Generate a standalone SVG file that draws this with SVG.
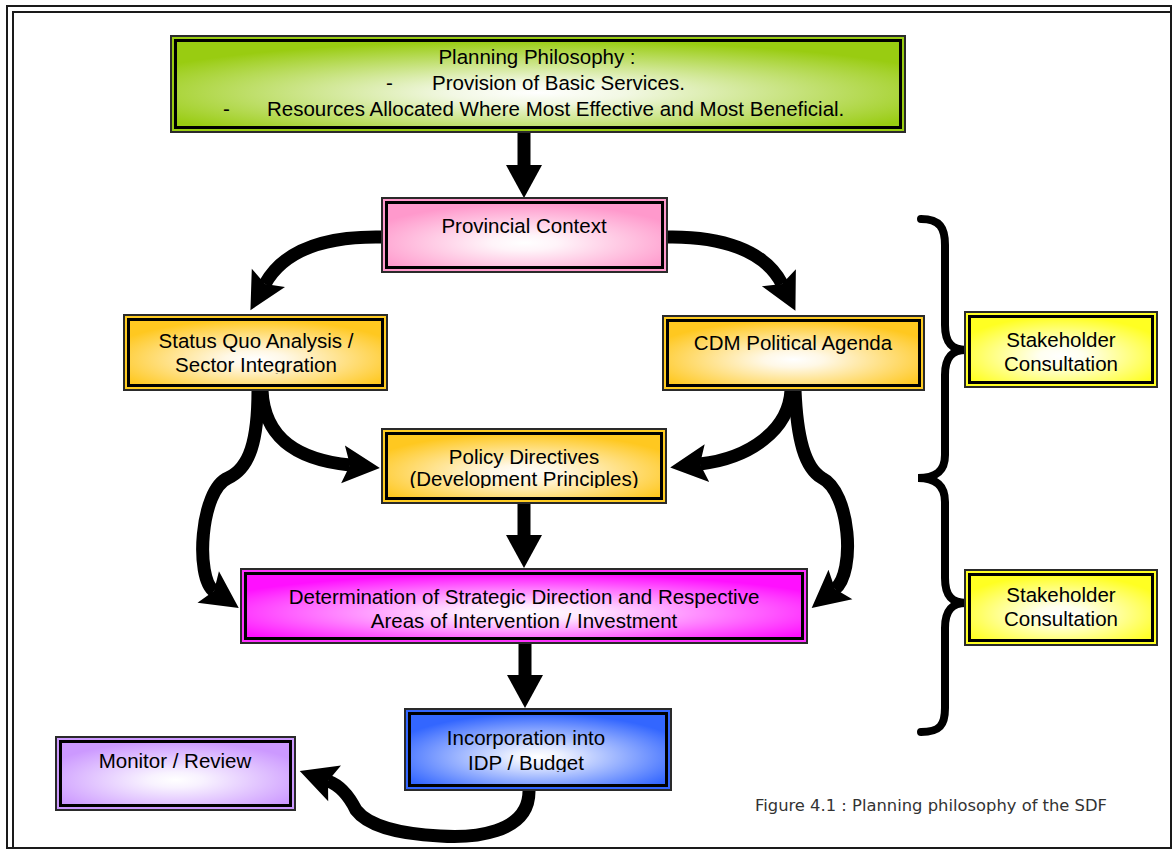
<svg xmlns="http://www.w3.org/2000/svg" width="1175" height="850" viewBox="0 0 1175 850">
<style>
.frame{fill:none;stroke:#1a1a1a;stroke-width:2}
.outer{stroke:#2a2a2a;stroke-width:2}
.inner{stroke:#000;stroke-width:3}
.t{font-family:"Liberation Sans",Arial,sans-serif;font-size:20.5px;fill:#000}
.c{text-anchor:middle}
.conn{fill:none;stroke:#000;stroke-width:13}
.brace{fill:none;stroke:#000;stroke-width:8;stroke-linecap:round;stroke-linejoin:miter}
.cap{font-family:"DejaVu Sans","Liberation Sans",sans-serif;font-size:15px;fill:#333}
</style>
<defs>
<radialGradient id="gGreen" cx="0.5" cy="0.6" r="0.6"><stop offset="0" stop-color="#fff"/><stop offset="0.2" stop-color="#f2f8e4"/><stop offset="1" stop-color="#99cc11"/></radialGradient>
<radialGradient id="gPink" cx="0.5" cy="0.62" r="0.6"><stop offset="0" stop-color="#fff"/><stop offset="0.2" stop-color="#fff4f9"/><stop offset="1" stop-color="#ff99cc"/></radialGradient>
<radialGradient id="gGold" cx="0.5" cy="0.6" r="0.6"><stop offset="0" stop-color="#fff"/><stop offset="0.2" stop-color="#fff8e6"/><stop offset="1" stop-color="#ffc820"/></radialGradient>
<radialGradient id="gMag" cx="0.5" cy="0.6" r="0.6"><stop offset="0" stop-color="#fff"/><stop offset="0.2" stop-color="#ffe6ff"/><stop offset="1" stop-color="#ff10ff"/></radialGradient>
<radialGradient id="gBlue" cx="0.5" cy="0.6" r="0.6"><stop offset="0" stop-color="#fff"/><stop offset="0.15" stop-color="#eef2ff"/><stop offset="1" stop-color="#3366ff"/></radialGradient>
<radialGradient id="gPurple" cx="0.5" cy="0.6" r="0.6"><stop offset="0" stop-color="#fff"/><stop offset="0.2" stop-color="#f8f2ff"/><stop offset="1" stop-color="#cc99ff"/></radialGradient>
<radialGradient id="gYellow" cx="0.5" cy="0.6" r="0.6"><stop offset="0" stop-color="#fff"/><stop offset="0.2" stop-color="#fffff0"/><stop offset="1" stop-color="#ffff22"/></radialGradient>
<marker id="head" markerUnits="userSpaceOnUse" viewBox="-8 -20 40 40" refX="0" refY="0" markerWidth="40" markerHeight="40" orient="auto" overflow="visible">
<path d="M30,0 L-7,-19 L0,0 L-7,19 Z" fill="#000"/>
</marker>
<marker id="flat" markerUnits="userSpaceOnUse" viewBox="0 -20 40 40" refX="0" refY="0" markerWidth="40" markerHeight="40" orient="auto" overflow="visible">
<path d="M33,0 L0,-18 L0,18 Z" fill="#000"/>
</marker>
<clipPath id="clipSQ"><rect x="120" y="300" width="280" height="73.5"/></clipPath>
<clipPath id="clipPD"><rect x="380" y="420" width="290" height="68"/></clipPath>
<clipPath id="clipIN"><rect x="400" y="700" width="280" height="72"/></clipPath>
</defs>

<g id="frame">
<rect class="frame" x="7" y="6" width="1164" height="842"/>
<path class="frame" d="M13,849 V12 H1171"/>
</g>

<g id="connectors">
<path class="conn" d="M524,133 L524,165" marker-end="url(#flat)"/>
<path class="conn" d="M382,237 C330,236 285,248 265,284" marker-end="url(#head)"/>
<path class="conn" d="M667,237 C720,236 765,250 782,284" marker-end="url(#head)"/>
<path class="conn" d="M262,390 C264,440 300,460 350,465" marker-end="url(#head)"/>
<path class="conn" d="M258,390 C258,440 250,468 228,478 C200,490 195,578 214,591" marker-end="url(#head)"/>
<path class="conn" d="M791,390 C789,430 750,458 700,464" marker-end="url(#head)"/>
<path class="conn" d="M795,390 C797,440 805,468 822,478 C850,492 856,572 835,589" marker-end="url(#head)"/>
<path class="conn" d="M524,504 L524,535" marker-end="url(#flat)"/>
<path class="conn" d="M525,643 L525,675" marker-end="url(#flat)"/>
<path class="conn" d="M529,790 C530,835 470,838 440,836 C400,834 368,826 356,810 C350,798 342,786 328,781" marker-end="url(#head)"/>
<path class="brace" d="M921,219 C940,219 945,228 945,245 L945,325 C945,343 952,350 966,350 C952,350 945,357 945,375 L945,455 C945,472 935,478 918,478 C935,478 945,485 945,502 L945,578 C945,596 952,603 966,603 C952,603 945,610 945,628 L945,708 C945,725 940,732 921,732"/>
</g>

<g id="philosophy">
<rect class="outer" x="171" y="36" width="734" height="96" fill="#99cc11"/>
<rect class="inner" x="175.5" y="40.5" width="725" height="87" fill="url(#gGreen)"/>
<text class="t c" x="537" y="64">Planning Philosophy :</text>
<text class="t" x="386" y="90">-</text>
<text class="t" x="432" y="90">Provision of Basic Services.</text>
<text class="t" x="223" y="116">-</text>
<text class="t" x="267" y="116">Resources Allocated Where Most Effective and Most Beneficial.</text>
</g>

<g id="provincial">
<rect class="outer" x="382" y="198" width="285" height="74" fill="#ff99cc"/>
<rect class="inner" x="386.5" y="202.5" width="276" height="65" fill="url(#gPink)"/>
<text class="t c" x="524" y="233">Provincial Context</text>
</g>

<g id="statusquo">
<rect class="outer" x="124" y="315" width="263" height="75" fill="#ffcc22"/>
<rect class="inner" x="128.5" y="319.5" width="254" height="66" fill="url(#gGold)"/>
<g clip-path="url(#clipSQ)">
<text class="t c" x="256" y="348">Status Quo Analysis /</text>
<text class="t c" x="256" y="372">Sector Integration</text>
</g>
</g>

<g id="cdm">
<rect class="outer" x="663" y="316" width="261" height="74" fill="#ffcc22"/>
<rect class="inner" x="667.5" y="320.5" width="252" height="65" fill="url(#gGold)"/>
<text class="t c" x="793" y="350">CDM Political Agenda</text>
</g>

<g id="policy">
<rect class="outer" x="382" y="429" width="284" height="74" fill="#ffcc22"/>
<rect class="inner" x="386.5" y="433.5" width="275" height="65" fill="url(#gGold)"/>
<g clip-path="url(#clipPD)">
<text class="t c" x="524" y="464">Policy Directives</text>
<text class="t c" x="524" y="486">(Development Principles)</text>
</g>
</g>

<g id="determination">
<rect class="outer" x="241" y="569" width="566" height="74" fill="#ff33ff"/>
<rect class="inner" x="245.5" y="573.5" width="557" height="65" fill="url(#gMag)"/>
<text class="t c" x="524" y="604">Determination of Strategic Direction and Respective</text>
<text class="t c" x="524" y="628">Areas of Intervention / Investment</text>
</g>

<g id="incorporation">
<rect class="outer" x="405" y="709" width="266" height="81" fill="#3366ff"/>
<rect class="inner" x="409.5" y="713.5" width="257" height="72" fill="url(#gBlue)"/>
<g clip-path="url(#clipIN)">
<text class="t c" x="526" y="745">Incorporation into</text>
<text class="t c" x="526" y="770">IDP / Budget</text>
</g>
</g>

<g id="monitor">
<rect class="outer" x="56" y="737" width="239" height="73" fill="#cc99ff"/>
<rect class="inner" x="60.5" y="741.5" width="230" height="64" fill="url(#gPurple)"/>
<text class="t c" x="175" y="768">Monitor / Review</text>
</g>

<g id="stakeholder1">
<rect class="outer" x="965" y="312" width="192" height="75" fill="#ffff22"/>
<rect class="inner" x="969.5" y="316.5" width="183" height="66" fill="url(#gYellow)"/>
<text class="t c" x="1061" y="347">Stakeholder</text>
<text class="t c" x="1061" y="371">Consultation</text>
</g>

<g id="stakeholder2">
<rect class="outer" x="965" y="570" width="192" height="75" fill="#ffff22"/>
<rect class="inner" x="969.5" y="574.5" width="183" height="66" fill="url(#gYellow)"/>
<text class="t c" x="1061" y="602">Stakeholder</text>
<text class="t c" x="1061" y="626">Consultation</text>
</g>

<g id="caption">
<text class="cap" x="755" y="811" textLength="352" lengthAdjust="spacingAndGlyphs">Figure 4.1 : Planning philosophy of the SDF</text>
</g>
</svg>
